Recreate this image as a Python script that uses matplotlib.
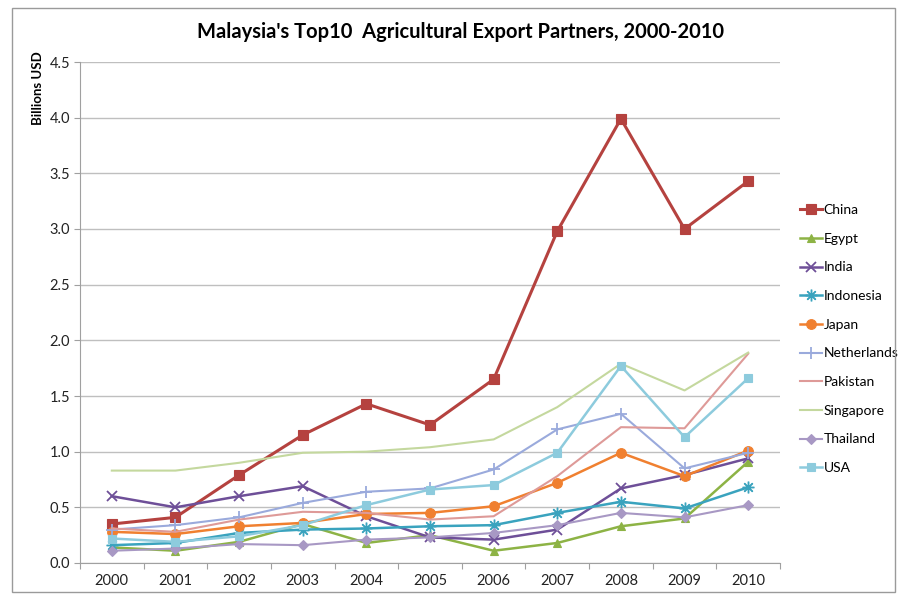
import numpy as np
import matplotlib.pyplot as plt
from matplotlib.patches import Rectangle

plt.rcParams['font.family'] = ['Lato', 'DejaVu Sans']

# 数据 (十亿美元)
years = ['2000', '2001', '2002', '2003', '2004', '2005', '2006', '2007', '2008', '2009', '2010']
china = [0.35, 0.41, 0.79, 1.15, 1.43, 1.24, 1.65, 2.98, 3.99, 3.00, 3.43]
egypt = [0.14, 0.11, 0.19, 0.35, 0.18, 0.25, 0.11, 0.18, 0.33, 0.40, 0.91]
india = [0.60, 0.50, 0.60, 0.69, 0.42, 0.23, 0.21, 0.30, 0.67, 0.79, 0.94]
indonesia = [0.16, 0.18, 0.27, 0.30, 0.31, 0.33, 0.34, 0.45, 0.55, 0.49, 0.68]
japan = [0.28, 0.26, 0.33, 0.36, 0.44, 0.45, 0.51, 0.72, 0.99, 0.78, 1.01]
netherlands = [0.30, 0.34, 0.41, 0.54, 0.64, 0.67, 0.84, 1.20, 1.34, 0.85, 0.99]
pakistan = [0.31, 0.28, 0.39, 0.46, 0.45, 0.39, 0.42, 0.78, 1.22, 1.21, 1.88]
singapore = [0.83, 0.83, 0.90, 0.99, 1.00, 1.04, 1.11, 1.40, 1.79, 1.55, 1.89]
thailand = [0.11, 0.13, 0.17, 0.16, 0.21, 0.23, 0.27, 0.34, 0.45, 0.41, 0.52]
usa = [0.22, 0.19, 0.24, 0.34, 0.52, 0.66, 0.70, 0.99, 1.77, 1.13, 1.66]

series = [
    ('China', china, '#B5423F', 's', 2.2, 7),
    ('Egypt', egypt, '#8DB345', '^', 1.8, 6),
    ('India', india, '#6E4F98', 'x', 1.8, 7),
    ('Indonesia', indonesia, '#3AA3BE', '$\u2733$', 1.8, 8),
    ('Japan', japan, '#F08030', 'o', 1.8, 7),
    ('Netherlands', netherlands, '#9AAADC', '+', 1.5, 8),
    ('Pakistan', pakistan, '#DE9A98', None, 1.5, 0),
    ('Singapore', singapore, '#C4D89E', None, 1.5, 0),
    ('Thailand', thailand, '#A898C4', 'D', 1.5, 5),
    ('USA', usa, '#8DCBDD', 's', 1.8, 6),
]

fig = plt.figure(figsize=(9.01, 5.96), dpi=100)
ax = fig.add_axes([80 / 901, 1 - 563 / 596, 700 / 901, (563 - 62) / 596])

x = np.arange(len(years))
for name, vals, col, mk, lw, ms in series:
    ax.plot(x, vals, color=col, linewidth=lw, marker=mk, markersize=ms,
            markeredgewidth=1.3 if mk in ('x', '+') else 0.8, label=name)

ax.set_xlim(-0.5, len(years) - 0.5)
ax.set_ylim(0, 4.5)
ax.set_yticks(np.arange(0, 4.51, 0.5))
ax.set_yticklabels(['%.1f' % v for v in np.arange(0, 4.51, 0.5)], fontsize=10.5, color='#222222')
ax.grid(axis='y', color='#BFBFBF', linewidth=1)
ax.set_axisbelow(True)

# x 轴刻度在分类之间
ax.set_xticks(np.arange(-0.5, len(years), 1))
ax.set_xticklabels([])
ax.set_xticks(x, minor=True)
ax.set_xticklabels(years, minor=True, fontsize=10.5, color='#222222')
ax.tick_params(axis='x', which='minor', length=0, pad=8)
ax.tick_params(axis='x', which='major', length=4, color='#A0A0A0')
ax.tick_params(axis='y', length=4, color='#A0A0A0', pad=3)

for s in ['top', 'right']:
    ax.spines[s].set_visible(False)
ax.spines['left'].set_color('#A0A0A0')
ax.spines['bottom'].set_color('#A0A0A0')

ax.set_ylabel('Billions USD', fontsize=9.5, fontweight='bold')
ax.yaxis.set_label_coords(-0.052, 0.948)

fig.text(0.511, 0.946, "Malaysia's Top10  Agricultural Export Partners, 2000-2010",
         ha='center', va='center', fontsize=14.5, fontweight='bold')

ax.legend(loc='center left', bbox_to_anchor=(1.01, 0.447), frameon=False,
          fontsize=10, handlelength=1.6, handletextpad=0.15, labelspacing=1.2)

# 外框
fig.patches.append(Rectangle((12 / 901, 4 / 596), 883 / 901, 584 / 596,
                             transform=fig.transFigure, fill=False,
                             edgecolor='#9A9A9A', linewidth=1))

plt.savefig('out.png', dpi=100)
